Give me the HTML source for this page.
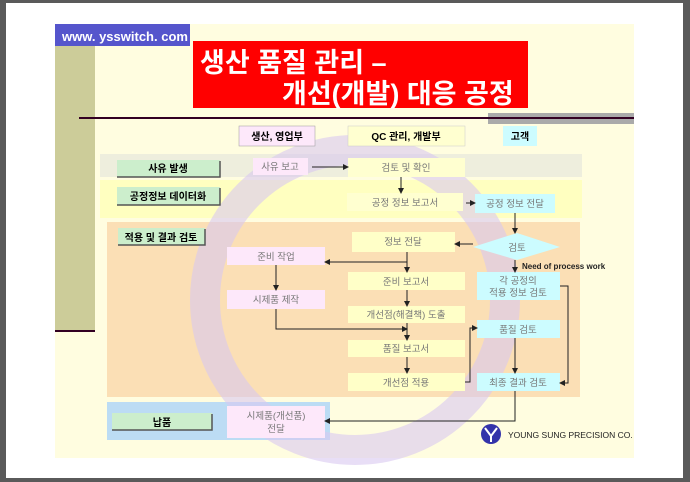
<!DOCTYPE html>
<html><head><meta charset="utf-8"><style>
body{margin:0;width:690px;height:482px;overflow:hidden;background:#fff;font-family:"Liberation Sans","Noto Sans CJK KR",sans-serif}
svg{display:block}
text{font-family:"Liberation Sans","Noto Sans CJK KR",sans-serif}
</style></head><body>
<svg width="690" height="482" viewBox="0 0 690 482">
<defs>
<marker id="a" markerWidth="6" markerHeight="6" refX="5" refY="3" orient="auto" markerUnits="userSpaceOnUse"><path d="M0,0 L6,3 L0,6z" fill="#222"/></marker>
</defs>
<rect width="690" height="482" fill="#5a5a5a"/>
<rect x="6" y="3" width="677" height="475" fill="#fff"/>
<rect x="55" y="24" width="579" height="434" fill="#fffde0"/>
<rect x="55" y="46" width="40" height="285" fill="#cccc99"/>
<rect x="55" y="24" width="135" height="22" fill="#5555cc"/>
<text x="62" y="41" font-size="13" font-weight="bold" fill="#fff">www. ysswitch. com</text>
<!-- bands -->
<rect x="100" y="154" width="482" height="23" fill="#eeeedd"/>
<rect x="100" y="180" width="482" height="38" fill="#ffffc0"/>
<rect x="107" y="222" width="473" height="175" fill="#fbdcb0" opacity="0.9"/>
<rect x="107" y="402" width="223" height="38" fill="#bcdcf4"/>
<!-- watermark -->
<circle cx="355" cy="300" r="150" fill="none" stroke="#d9c8f0" stroke-width="30" opacity="0.6"/>
<rect x="193" y="41" width="335" height="67" fill="#ff0000"/>
<text x="200" y="72" font-size="27" font-weight="bold" fill="#fff">생산 품질 관리 –</text>
<text x="282" y="103" font-size="27" font-weight="bold" fill="#fff">개선(개발) 대응 공정</text>
<rect x="488" y="113" width="146" height="11" fill="#aaa"/>
<line x1="79" y1="118" x2="634" y2="118" stroke="#330022" stroke-width="2"/>
<line x1="55" y1="331" x2="95" y2="331" stroke="#330022" stroke-width="2"/>
<!-- headers -->
<g font-size="10" font-weight="bold" text-anchor="middle" fill="#000">
<rect x="239" y="126" width="76" height="20" fill="#fde8fa" stroke="#999" stroke-width="0.5"/><text x="277" y="140">생산, 영업부</text>
<rect x="348" y="126" width="117" height="20" fill="#ffffd0" stroke="#ccc" stroke-width="0.5"/><text x="406" y="140">QC 관리, 개발부</text>
<rect x="503" y="126" width="34" height="20" fill="#ccfcff"/><text x="520" y="140">고객</text>
<g fill="#cceecc"><rect x="117" y="160" width="103" height="17"/><rect x="117" y="187" width="103" height="18"/><rect x="118" y="228" width="87" height="17"/><rect x="112" y="413" width="100" height="17"/></g>
<g stroke="#555" stroke-width="1.5" fill="none"><path d="M220,161 V177 H117"/><path d="M220,188 V205 H117"/><path d="M205,229 V245 H118"/><path d="M212,414 V430 H112"/></g>
<text x="168" y="172">사유 발생</text><text x="168" y="200">공정정보 데이터화</text><text x="161" y="241">적용 및 결과 검토</text><text x="162" y="426">납품</text>
</g>
<!-- boxes -->
<g font-size="9.5" text-anchor="middle" fill="#777">
<rect x="253" y="158" width="55" height="17" fill="#fde8fa"/><text x="280" y="170">사유 보고</text>
<rect x="348" y="158" width="117" height="19" fill="#ffffd0"/><text x="406" y="171">검토 및 확인</text>
<rect x="347" y="193" width="116" height="18" fill="#ffffd0"/><text x="405" y="206">공정 정보 보고서</text>
<rect x="475" y="194" width="80" height="19" fill="#ccfcff"/><text x="515" y="207">공정 정보 전달</text>
<rect x="352" y="232" width="103" height="20" fill="#ffffc8"/><text x="403" y="245">정보 전달</text>
<path d="M473,247 L517,233 L560,247 L517,260z" fill="#ccfcff"/><text x="517" y="251">검토</text>
<rect x="227" y="247" width="98" height="18" fill="#fde8fa"/><text x="276" y="260">준비 작업</text>
<rect x="348" y="272" width="117" height="18" fill="#ffffc8"/><text x="406" y="285">준비 보고서</text>
<rect x="477" y="272" width="83" height="28" fill="#ccfcff"/><text x="518" y="284">각 공정의</text><text x="518" y="296">적용 정보 검토</text>
<rect x="227" y="290" width="98" height="19" fill="#fde8fa"/><text x="276" y="303">시제품 제작</text>
<rect x="348" y="306" width="117" height="17" fill="#ffffc8"/><text x="406" y="318">개선점(해결책) 도출</text>
<rect x="477" y="320" width="83" height="18" fill="#ccfcff"/><text x="518" y="333">품질 검토</text>
<rect x="348" y="340" width="117" height="17" fill="#ffffc8"/><text x="406" y="352">품질 보고서</text>
<rect x="348" y="373" width="117" height="18" fill="#ffffc8"/><text x="406" y="386">개선점 적용</text>
<rect x="477" y="373" width="83" height="18" fill="#ccfcff"/><text x="518" y="386">최종 결과 검토</text>
<rect x="227" y="406" width="98" height="32" fill="#fde8fa"/><text x="276" y="419">시제품(개선품)</text><text x="276" y="432">전달</text>
</g>
<text x="522" y="269" font-size="8" font-weight="bold" fill="#222">Need of process work</text>
<!-- arrows -->
<g stroke="#222" stroke-width="1" fill="none" marker-end="url(#a)">
<path d="M312,167 H348"/>
<path d="M401,177 V193"/>
<path d="M466,203 H475"/>
<path d="M515,213 V233"/>
<path d="M473,244 H455"/>
<path d="M407,252 V272"/>
<path d="M407,262 H325"/>
<path d="M276,265 V290"/>
<path d="M276,309 V329 H407"/>
<path d="M407,290 V306"/>
<path d="M407,323 V340"/>
<path d="M407,357 V373"/>
<path d="M465,382 H470 V328 H477"/>
<path d="M515,260 V272"/>
<path d="M560,286 H568 V383 H560"/>
<path d="M515,338 V373"/>
<path d="M515,391 V421 H325"/>
</g>
<!-- logo -->
<circle cx="491" cy="434" r="10" fill="#3333aa"/>
<path d="M485,428 L491,436 L497,428 M491,436 V442" stroke="#fff" stroke-width="2" fill="none"/>
<text x="508" y="438" font-size="8.5" fill="#222">YOUNG SUNG PRECISION CO.</text>
</svg>
</body></html>
